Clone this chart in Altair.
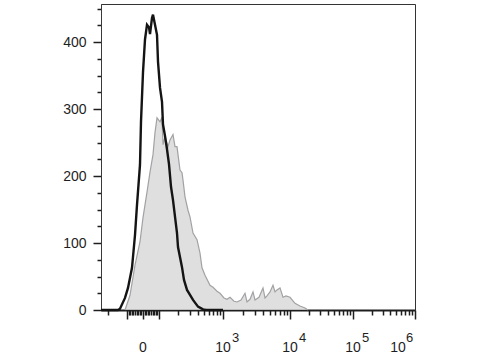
import math
import altair as alt
import pandas as pd

# ---- data (x in display channels, 0 = zero) ----
black_x = [-42, -25, -23, -18, -15, -11, -8, -6, -3, -2, 0, 2, 4, 6, 7, 9, 10, 12, 14, 15,
           17, 19, 20, 22, 24, 26, 28, 30, 34, 35, 39, 41, 44, 50, 55, 60, 63, 80]
black_y = [0, 0, 2, 18, 33, 63, 112, 157, 217, 281, 355, 404, 426, 422, 412, 436, 441, 426, 411, 371,
           332, 311, 277, 260, 240, 218, 184, 164, 115, 94, 64, 45, 30, 15, 5, 1, 0, 0]

gray_x = [-18, -13, -8, -3, 0, 4, 7, 10, 12, 14, 17, 19, 20, 22, 25, 27, 30, 32, 34, 37,
          39, 40, 42, 45, 47, 50, 54, 57, 59, 62, 64, 67, 70, 74, 77, 81, 84, 87, 91, 94,
          98, 102, 104, 107, 110, 112, 116, 120, 122, 124, 127, 130, 132, 134, 137, 140, 143, 147, 152, 157,
          162, 165]
gray_y = [0, 22, 67, 102, 138, 176, 206, 232, 265, 287, 281, 288, 247, 259, 244, 254, 262, 244, 244, 209,
          205, 194, 169, 149, 139, 115, 105, 85, 63, 52, 46, 37, 34, 28, 25, 18, 16, 19, 13, 12,
          15, 25, 12, 16, 27, 15, 19, 33, 18, 21, 27, 37, 27, 30, 33, 19, 21, 19, 10, 6,
          3, 0]

y_tick_values = list(range(0, 451, 25))

x_tick_values = ([-200] + list(range(-100, 101, 10)) + list(range(200, 1000, 100))
                 + list(range(1000, 10000, 1000)) + list(range(10000, 100000, 10000))
                 + list(range(100000, 1000001, 100000)))
x_major_values = [-100, 0, 100, 1000, 10000, 100000, 1000000]

label_values = [0, 1000, 10000, 100000]
label_base = ["0", "10", "10", "10"]
label_exp = ["", "3", "4", "5"]
last_value, last_base, last_exp = 1000000, "10", "6"

# ---- biexponential-like display transform (scale definition) ----
anchor_vals = [100, 1000, 10000, 100000, 1000000]
anchor_pos = [16, 80, 147, 210, 272]


def disp(v):
    a = abs(v)
    s = 1 if v >= 0 else -1
    if a <= anchor_vals[0]:
        return round(v * anchor_pos[0] / anchor_vals[0], 3)
    for i in range(len(anchor_vals) - 1):
        if a <= anchor_vals[i + 1]:
            f = (math.log10(a) - math.log10(anchor_vals[i])) / (
                math.log10(anchor_vals[i + 1]) - math.log10(anchor_vals[i]))
            return round(s * (anchor_pos[i] + f * (anchor_pos[i + 1] - anchor_pos[i])), 3)
    return round(s * anchor_pos[-1], 3)


XMIN, XMAX = -42, 272
tick_pos = [disp(v) for v in x_tick_values if XMIN <= disp(v) <= XMAX]
major_pos = [disp(v) for v in x_major_values]

FONT = "Liberation Sans"
INK = "#1e1e1e"

xs = alt.Scale(domain=[XMIN, XMAX], nice=False, zero=False)
ys = alt.Scale(domain=[0, 457], nice=False, zero=True)

x_axis = alt.Axis(
    values=tick_pos, labels=False, title=None, grid=False,
    tickColor=INK, tickWidth=1.5, domainColor=INK, domainWidth=2,
    tickSize={"condition": {"test": "indexof(" + str(major_pos) + ", datum.value) >= 0",
                            "value": 9}, "value": 5},
)
y_axis = alt.Axis(
    values=y_tick_values, title=None, grid=False,
    labelExpr="datum.value % 100 === 0 ? datum.label : ''",
    tickColor=INK, tickWidth=1.5, domainColor="#3a3a3a", domainWidth=1,
    tickSize={"condition": {"test": "datum.value % 100 === 0", "value": 8}, "value": 4},
    labelFont=FONT, labelFontSize=14, labelColor=INK, labelPadding=7,
)

gray_df = pd.DataFrame({"x": gray_x, "count": gray_y})
black_df = pd.DataFrame({"x": black_x, "count": black_y})
lab_df = pd.DataFrame({"x": [disp(v) for v in label_values], "base": label_base, "exp": label_exp})
last_df = pd.DataFrame({"x": [disp(last_value)], "base": [last_base], "exp": [last_exp]})

area = alt.Chart(gray_df).mark_area(
    color="#d2d2d2", interpolate="linear",
    line={"color": "#a2a2a5", "strokeWidth": 1.2},
).encode(
    x=alt.X("x:Q", scale=xs, axis=x_axis),
    y=alt.Y("count:Q", scale=ys, axis=y_axis),
)

line = alt.Chart(black_df).mark_line(color="#141414", strokeWidth=2.4).encode(
    x=alt.X("x:Q", scale=xs, axis=x_axis),
    y=alt.Y("count:Q", scale=ys, axis=y_axis),
)

base_txt = alt.Chart(lab_df).mark_text(
    font=FONT, fontSize=14, color=INK, align="center", baseline="alphabetic"
).encode(x=alt.X("x:Q", scale=xs, axis=x_axis), y=alt.value(348), text="base:N")

exp_txt = alt.Chart(lab_df).mark_text(
    font=FONT, fontSize=13, color=INK, align="left", baseline="alphabetic", dx=9
).encode(x=alt.X("x:Q", scale=xs, axis=x_axis), y=alt.value(338), text="exp:N")

last_base_txt = alt.Chart(last_df).mark_text(
    font=FONT, fontSize=14, color=INK, align="center", baseline="alphabetic", dx=-17
).encode(x=alt.X("x:Q", scale=xs, axis=x_axis), y=alt.value(348), text="base:N")

last_exp_txt = alt.Chart(last_df).mark_text(
    font=FONT, fontSize=13, color=INK, align="left", baseline="alphabetic", dx=-9
).encode(x=alt.X("x:Q", scale=xs, axis=x_axis), y=alt.value(338), text="exp:N")

chart = alt.layer(area, line, base_txt, exp_txt, last_base_txt, last_exp_txt).properties(
    width=314, height=306,
    autosize=alt.AutoSizeParams(type="none"),
    padding={"left": 101, "top": 4, "right": 65, "bottom": 50},
    background="white",
).configure_view(stroke="#333333", strokeWidth=1)

chart.save("out.html", embed_options={"renderer": "svg", "actions": False})
